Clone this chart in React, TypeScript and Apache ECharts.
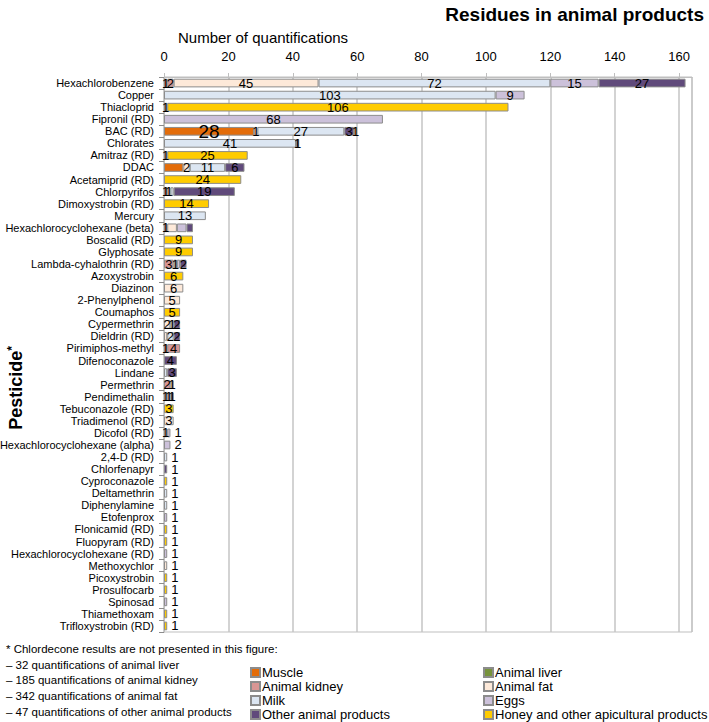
import React, { useEffect, useRef } from "react";
import * as echarts from "echarts";

const categories = [
  "Hexachlorobenzene", "Copper", "Thiacloprid", "Fipronil (RD)", "BAC (RD)", "Chlorates", "Amitraz (RD)", "DDAC", "Acetamiprid (RD)", "Chlorpyrifos",
  "Dimoxystrobin (RD)", "Mercury", "Hexachlorocyclohexane (beta)", "Boscalid (RD)", "Glyphosate", "Lambda-cyhalothrin (RD)", "Azoxystrobin", "Diazinon", "2-Phenylphenol", "Coumaphos",
  "Cypermethrin", "Dieldrin (RD)", "Pirimiphos-methyl", "Difenoconazole", "Lindane", "Permethrin", "Pendimethalin", "Tebuconazole (RD)", "Triadimenol (RD)", "Dicofol (RD)",
  "Hexachlorocyclohexane (alpha)", "2,4-D (RD)", "Chlorfenapyr", "Cyproconazole", "Deltamethrin", "Diphenylamine", "Etofenprox", "Flonicamid (RD)", "Fluopyram (RD)", "Hexachlorocyclohexane (RD)",
  "Methoxychlor", "Picoxystrobin", "Prosulfocarb", "Spinosad", "Thiamethoxam", "Trifloxystrobin (RD)",
];

const muscle = [1,0,0,0,28,0,0,6,0,1, 0,0,0,0,0,0,0,0,0,0, 0,0,1,0,0,0,0,0,0,0, 0,0,0,0,0,0,0,0,0,0, 0,0,0,0,0,0];
const animalLiver = [0,0,0,0,0,0,0,0,0,0, 0,0,0,0,0,0,0,0,0,0, 0,0,0,0,0,0,0,0,0,0, 0,0,0,0,0,0,0,0,0,0, 0,0,0,0,0,0];
const animalKidney = [2,0,0,0,0,0,0,0,0,0, 0,0,1,0,0,3,0,0,0,0, 0,0,4,0,0,2,0,0,0,0, 0,0,0,0,0,0,0,0,0,0, 0,0,0,0,0,0];
const animalFat = [45,0,0,0,1,0,0,2,0,1, 0,0,3,0,0,0,0,6,5,0, 2,1,0,0,0,1,0,0,3,0, 0,0,0,0,0,0,0,0,0,0, 1,0,0,0,0,0];
const milk = [72,103,1,0,27,41,1,11,0,1, 0,13,0,0,0,1,0,0,0,0, 1,2,0,0,1,0,1,0,0,1, 0,1,0,0,1,1,0,0,0,0, 0,0,0,0,0,0];
const eggs = [15,9,0,68,0,0,0,0,0,0, 0,0,3,0,0,1,0,0,0,0, 0,0,0,0,0,0,1,0,0,1, 2,0,0,0,0,0,1,0,0,1, 0,0,0,1,0,0];
const otherProducts = [27,0,0,0,3,1,0,6,0,19, 0,0,2,0,0,2,0,0,0,0, 2,2,0,4,3,0,1,0,0,0, 0,0,1,0,0,0,0,0,0,0, 0,0,0,0,0,0];
const honey = [0,0,106,0,1,0,25,0,24,0, 14,0,0,9,9,0,6,0,0,5, 0,0,0,0,0,0,0,3,0,0, 0,0,0,1,0,0,0,1,1,0, 0,1,1,0,1,1];

const seriesNames = ["Muscle", "Animal liver", "Animal kidney", "Animal fat", "Milk", "Eggs", "Other animal products", "Honey and other apicultural products"];
const seriesValues = [muscle, animalLiver, animalKidney, animalFat, milk, eggs, otherProducts, honey];
const seriesColors = ["#E36C09", "#77933C", "#D99694", "#FDE9D9", "#DCE6F2", "#CCC1DA", "#604A7B", "#FFCC00"];

const xTicks = [0, 20, 40, 60, 80, 100, 120, 140, 160];

const footnoteLines = [
  "* Chlordecone results are not presented in this figure:",
  "\u2013 32 quantifications of animal liver",
  "\u2013 185 quantifications of animal kidney",
  "\u2013 342 quantifications of animal fat",
  "\u2013 47 quantifications of other animal products",
];

// label tweaks: [category, series]
const hiddenLabels = [
  ["DDAC", "Muscle"], ["Chlorpyrifos", "Milk"],
  ["Hexachlorocyclohexane (beta)", "Animal fat"], ["Hexachlorocyclohexane (beta)", "Eggs"], ["Hexachlorocyclohexane (beta)", "Other animal products"],
  ["Lambda-cyhalothrin (RD)", "Eggs"], ["Dieldrin (RD)", "Animal fat"], ["Lindane", "Milk"],
];
const largeLabels = [["BAC (RD)", "Muscle"]];
const outsideLabelFrom = "Dicofol (RD)";

const FONT = "'Liberation Sans', Arial, sans-serif";

export default function App() {
  const ref = useRef<HTMLDivElement>(null);
  useEffect(() => {
    document.body.style.margin = "0";
    const chart = echarts.init(ref.current!, undefined, { renderer: "svg" });
    const outsideStart = categories.indexOf(outsideLabelFrom);

    const series = seriesNames.map((name, si) => {
      const vals = seriesValues[si];
      return {
        name,
        type: "bar",
        stack: "total",
        barCategoryGap: "28%",
        itemStyle: { color: seriesColors[si], borderColor: "#8c8c8c", borderWidth: 1 },
        label: {
          show: true,
          position: "inside",
          color: "#000",
          fontSize: 13,
          fontFamily: FONT,
          formatter: "{c}",
        },
        data: vals.map((v, ci) => {
          if (!v) return "-";
          const cat = categories[ci];
          const item: any = { value: v };
          if (hiddenLabels.some(([c, s]) => c === cat && s === name)) {
            item.label = { show: false };
          } else if (largeLabels.some(([c, s]) => c === cat && s === name)) {
            item.label = { fontSize: 19 };
          } else if (ci >= outsideStart) {
            let last = true;
            for (let k = si + 1; k < seriesValues.length; k++) if (seriesValues[k][ci]) last = false;
            if (last) item.label = { position: "right", distance: 4 };
          }
          return item;
        }),
      };
    });

    const legendCommon = {
      orient: "vertical",
      top: 666,
      height: 60,
      itemGap: 1,
      itemWidth: 9,
      itemHeight: 9,
      icon: "rect",
      padding: 0,
      textStyle: { fontFamily: FONT, fontSize: 13, color: "#000", lineHeight: 13, padding: [0, 0, 0, -3] },
    };

    chart.setOption({
      animation: false,
      title: {
        text: "Residues in animal products",
        right: 0,
        top: 0,
        textStyle: { fontFamily: FONT, fontSize: 19, fontWeight: "bold", color: "#000" },
      },
      legend: [
        { ...legendCommon, data: [seriesNames[0], seriesNames[2], seriesNames[4], seriesNames[6]], left: 250 },
        { ...legendCommon, data: [seriesNames[1], seriesNames[3], seriesNames[5], seriesNames[7]], left: 483 },
      ],
      grid: { left: 164, right: 17, top: 77, bottom: 90, outerBoundsMode: "none", containLabel: false, show: true, borderColor: "#bfbfbf", borderWidth: 1 },
      xAxis: {
        type: "value",
        position: "top",
        min: xTicks[0],
        max: 164,
        interval: xTicks[1] - xTicks[0],
        axisLine: { show: true, lineStyle: { color: "#bfbfbf" } },
        axisTick: { show: true, length: 4, lineStyle: { color: "#bfbfbf" } },
        axisLabel: { showMaxLabel: false, margin: 14, fontFamily: FONT, fontSize: 13, color: "#000" },
        splitLine: { show: true, lineStyle: { color: "#c4c4c4", width: 1.5 } },
      },
      yAxis: {
        type: "category",
        inverse: true,
        data: categories,
        axisLine: { show: true, lineStyle: { color: "#bfbfbf" } },
        axisTick: { show: true, length: 5, lineStyle: { color: "#8c8c8c" } },
        axisLabel: { margin: 10, fontFamily: FONT, fontSize: 11, color: "#000", interval: 0 },
      },
      graphic: [
        {
          type: "text",
          left: 178,
          top: 30,
          style: { text: "Number of quantifications", fontFamily: FONT, fontSize: 15, fill: "#000" },
        },
        {
          type: "text",
          x: 16,
          y: 388,
          rotation: Math.PI / 2,
          style: {
            text: "Pesticide{sup|*}",
            align: "center",
            verticalAlign: "middle",
            fontFamily: FONT, fontSize: 18, fontWeight: "bold", fill: "#000",
            rich: { sup: { fontFamily: FONT, fontSize: 12, fontWeight: "bold", fill: "#000", verticalAlign: "top", padding: [0, 0, 8, 0] } },
          },
        },
        ...footnoteLines.map((t, i) => ({
          type: "text",
          left: 6,
          top: 643 + i * 15.7,
          style: { text: t, fontFamily: FONT, fontSize: 11.5, fill: "#000" },
        })),
      ],
      series,
    });
    return () => chart.dispose();
  }, []);
  return <div ref={ref} style={{ width: 709, height: 722 }} />;
}
